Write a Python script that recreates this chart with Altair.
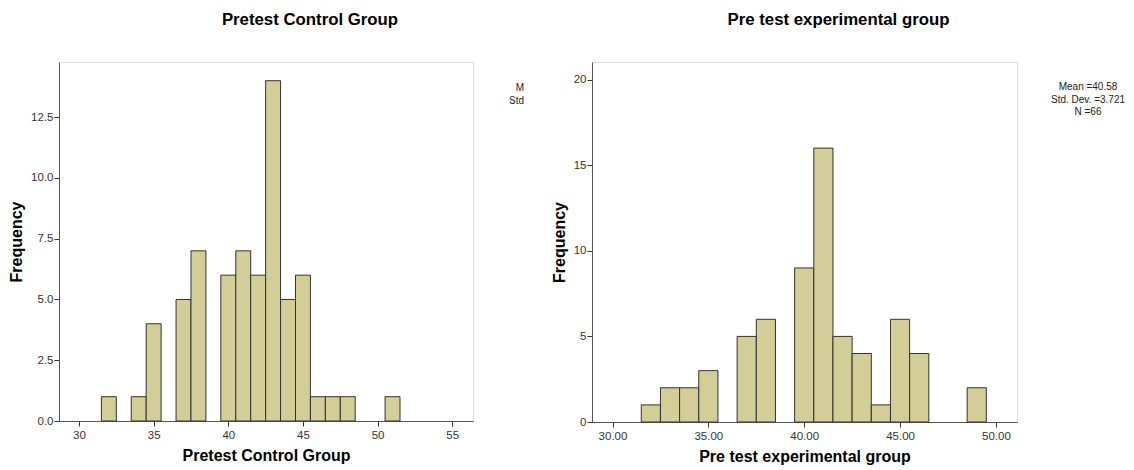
import altair as alt
import pandas as pd

# ---- data ----
ctrl_scores = [32, 34, 35, 37, 38, 40, 41, 42, 43, 44, 45, 46, 47, 48, 51]
ctrl_freq = [1, 1, 4, 5, 7, 6, 7, 6, 14, 5, 6, 1, 1, 1, 1]
exp_scores = [32, 33, 34, 35, 37, 38, 40, 41, 42, 43, 44, 45, 46, 49]
exp_freq = [1, 2, 2, 3, 5, 6, 9, 16, 5, 4, 1, 6, 4, 2]

ctrl_ticks = [30, 35, 40, 45, 50, 55]
ctrl_yticks = [0, 2.5, 5, 7.5, 10, 12.5]
exp_ticks = [30, 35, 40, 45, 50]
exp_yticks = [0, 5, 10, 15, 20]

exp_stats = "Mean =40.58\nStd. Dev. =3.721\nN =66"

FONT = "Liberation Sans"
FILL = "#D3CE97"
STROKE = "#333333"
TITLE_SIZE = 16.8
AXIS_TITLE_SIZE = 16
LABEL_SIZE = 11.5


def axis(values, fmt, tpad, lpad):
    return alt.Axis(values=values, format=fmt, grid=False,
                    tickSize=5, tickColor="#333333", tickWidth=1,
                    domainColor="#555555", domainWidth=1,
                    labelFont=FONT, labelFontSize=LABEL_SIZE, labelColor="#333333",
                    labelPadding=lpad, titlePadding=tpad,
                    titleFont=FONT, titleFontSize=AXIS_TITLE_SIZE, titleFontWeight="bold",
                    titleColor="#000000")


def panel(scores, freq, title, xtitle, xdom, ydom, xticks, yticks, xfmt, yfmt,
          width, height, title_dx, stats_layer):
    df = pd.DataFrame({"score": scores, "freq": freq})
    base = alt.Chart(df).transform_calculate(
        lo="datum.score - 0.5", hi="datum.score + 0.5"
    )
    bars = base.mark_bar(fill=FILL, stroke=STROKE, strokeWidth=1, opacity=1).encode(
        x=alt.X("lo:Q", title=xtitle,
                scale=alt.Scale(domain=xdom, nice=False, zero=False),
                axis=axis(xticks, xfmt, 7, 3)),
        x2="hi:Q",
        y=alt.Y("freq:Q", title="Frequency",
                scale=alt.Scale(domain=ydom, nice=False),
                axis=axis(yticks, yfmt, 6, 1)),
        y2=alt.datum(0),
    )
    return alt.layer(bars, stats_layer).properties(
        width=width, height=height,
        title=alt.TitleParams(title, font=FONT, fontSize=TITLE_SIZE, fontWeight="bold",
                              color="#000000", frame="group", anchor="middle",
                              offset=33, dx=title_dx),
    )


one = pd.DataFrame({"k": [0]})

ctrl_text = alt.Chart(one).mark_text(
    text="M\nStd", lineBreak="\n", align="right", baseline="middle",
    font=FONT, fontSize=10, lineHeight=12.5, color="#222222",
).encode(x=alt.value(465), y=alt.value(26))

exp_text = alt.Chart(one).mark_text(
    text=exp_stats, lineBreak="\n", align="center", baseline="middle",
    font=FONT, fontSize=10, lineHeight=12.5, color="#222222",
).encode(x=alt.value(496), y=alt.value(25))

left = panel(ctrl_scores, ctrl_freq, "Pretest Control Group", "Pretest Control Group",
             [28.66, 56.39], [0, 14.77], ctrl_ticks, ctrl_yticks, "d", ".1f",
             414, 359, 44, ctrl_text)
right = panel(exp_scores, exp_freq, "Pre test experimental group", "Pre test experimental group",
              [28.93, 51.1], [0, 21.03], exp_ticks, exp_yticks, ".2f", "d",
              425, 360, 34, exp_text)

chart = alt.hconcat(left, right, spacing=119, bounds="flush").properties(
    padding={"top": 3, "left": 0, "right": 0, "bottom": 0}
).configure_view(
    fill="#F0F0F0", stroke="#444444", strokeWidth=1
).configure(background="white")

chart.save("out.html", embed_options={"renderer": "svg", "actions": False})
